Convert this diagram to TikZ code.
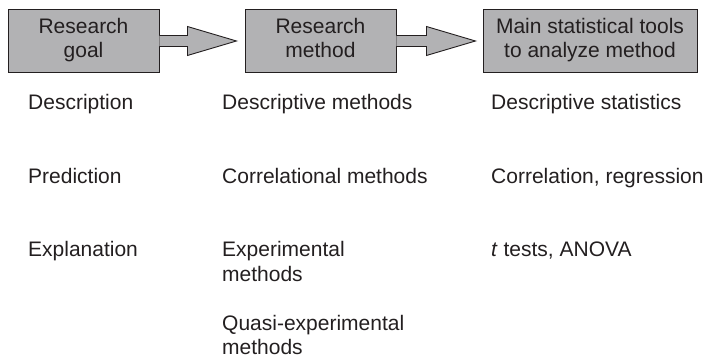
\documentclass[tikz,border=0pt]{standalone}
\usepackage{fontspec}
\setmainfont{Liberation Sans}
\usetikzlibrary{calc}
\definecolor{boxgray}{RGB}{178,178,180}
\definecolor{ink}{RGB}{35,31,32}
\begin{document}
\begin{tikzpicture}[x=1pt,y=-1pt,
  every node/.style={text=ink,font=\fontsize{21}{24.5}\selectfont,inner sep=0pt},
  headbox/.style={draw=ink,line width=0.9pt,fill=boxgray,align=center,minimum height=63pt},
  lbl/.style={anchor=base west},
  lbl2/.style={anchor=north west,align=left},
  arrowfill/.style={fill=boxgray},
  arrowline/.style={draw=ink,line width=0.9pt,line join=miter}]
\useasboundingbox (0,0) rectangle (706,358);
% header boxes
\node[headbox,minimum width=151pt] (b1) at (83.5,40.7) {\strut Research\\\strut goal};
\node[headbox,minimum width=151pt] (b2) at (320.5,40.7) {\strut Research\\\strut method};
\node[headbox,minimum width=214pt] (b3) at (590,40.7) {\strut Main statistical tools\\\strut to analyze method};
% arrow 1
\coordinate (a1s) at ($(b1.east)+(0,0.3)$);
\fill[arrowfill] ($(a1s)+(0,-5.5)$) -- ($(a1s)+(28,-5.5)$) -- ($(a1s)+(28,-14.5)$) -- ($(a1s)+(77,0)$) -- ($(a1s)+(28,14.5)$) -- ($(a1s)+(28,5.5)$) -- ($(a1s)+(0,5.5)$) -- cycle;
\draw[arrowline] ($(a1s)+(0,-5.5)$) -- ($(a1s)+(28,-5.5)$) -- ($(a1s)+(28,-14.5)$) -- ($(a1s)+(77,0)$) -- ($(a1s)+(28,14.5)$) -- ($(a1s)+(28,5.5)$) -- ($(a1s)+(0,5.5)$);
% arrow 2
\coordinate (a2s) at ($(b2.east)+(0,0.3)$);
\fill[arrowfill] ($(a2s)+(0,-5.5)$) -- ($(a2s)+(30,-5.5)$) -- ($(a2s)+(30,-14.5)$) -- ($(a2s)+(79,0)$) -- ($(a2s)+(30,14.5)$) -- ($(a2s)+(30,5.5)$) -- ($(a2s)+(0,5.5)$) -- cycle;
\draw[arrowline] ($(a2s)+(0,-5.5)$) -- ($(a2s)+(30,-5.5)$) -- ($(a2s)+(30,-14.5)$) -- ($(a2s)+(79,0)$) -- ($(a2s)+(30,14.5)$) -- ($(a2s)+(30,5.5)$) -- ($(a2s)+(0,5.5)$);
% column 1
\node[lbl] (g1) at (28,110) {Description};
\node[lbl] (g2) at (28,183) {Prediction};
\node[lbl] (g3) at (28,256) {Explanation};
% column 2
\node[lbl] (m1) at (222,110) {Descriptive methods};
\node[lbl] (m2) at (222,183) {Correlational methods};
\node[lbl2] (m3) at (222,239.2) {\strut Experimental\\methods};
\node[lbl2,font=\fontsize{21}{24}\selectfont] (m4) at (222,313.5) {\strut Quasi-experimental\\methods};
% column 3
\node[lbl] (s1) at (491,110) {Descriptive statistics};
\node[lbl] (s2) at (491,183) {Correlation, regression};
\node[lbl] (s3) at (491,256) {\textit{t} tests, ANOVA};
\end{tikzpicture}
\end{document}
